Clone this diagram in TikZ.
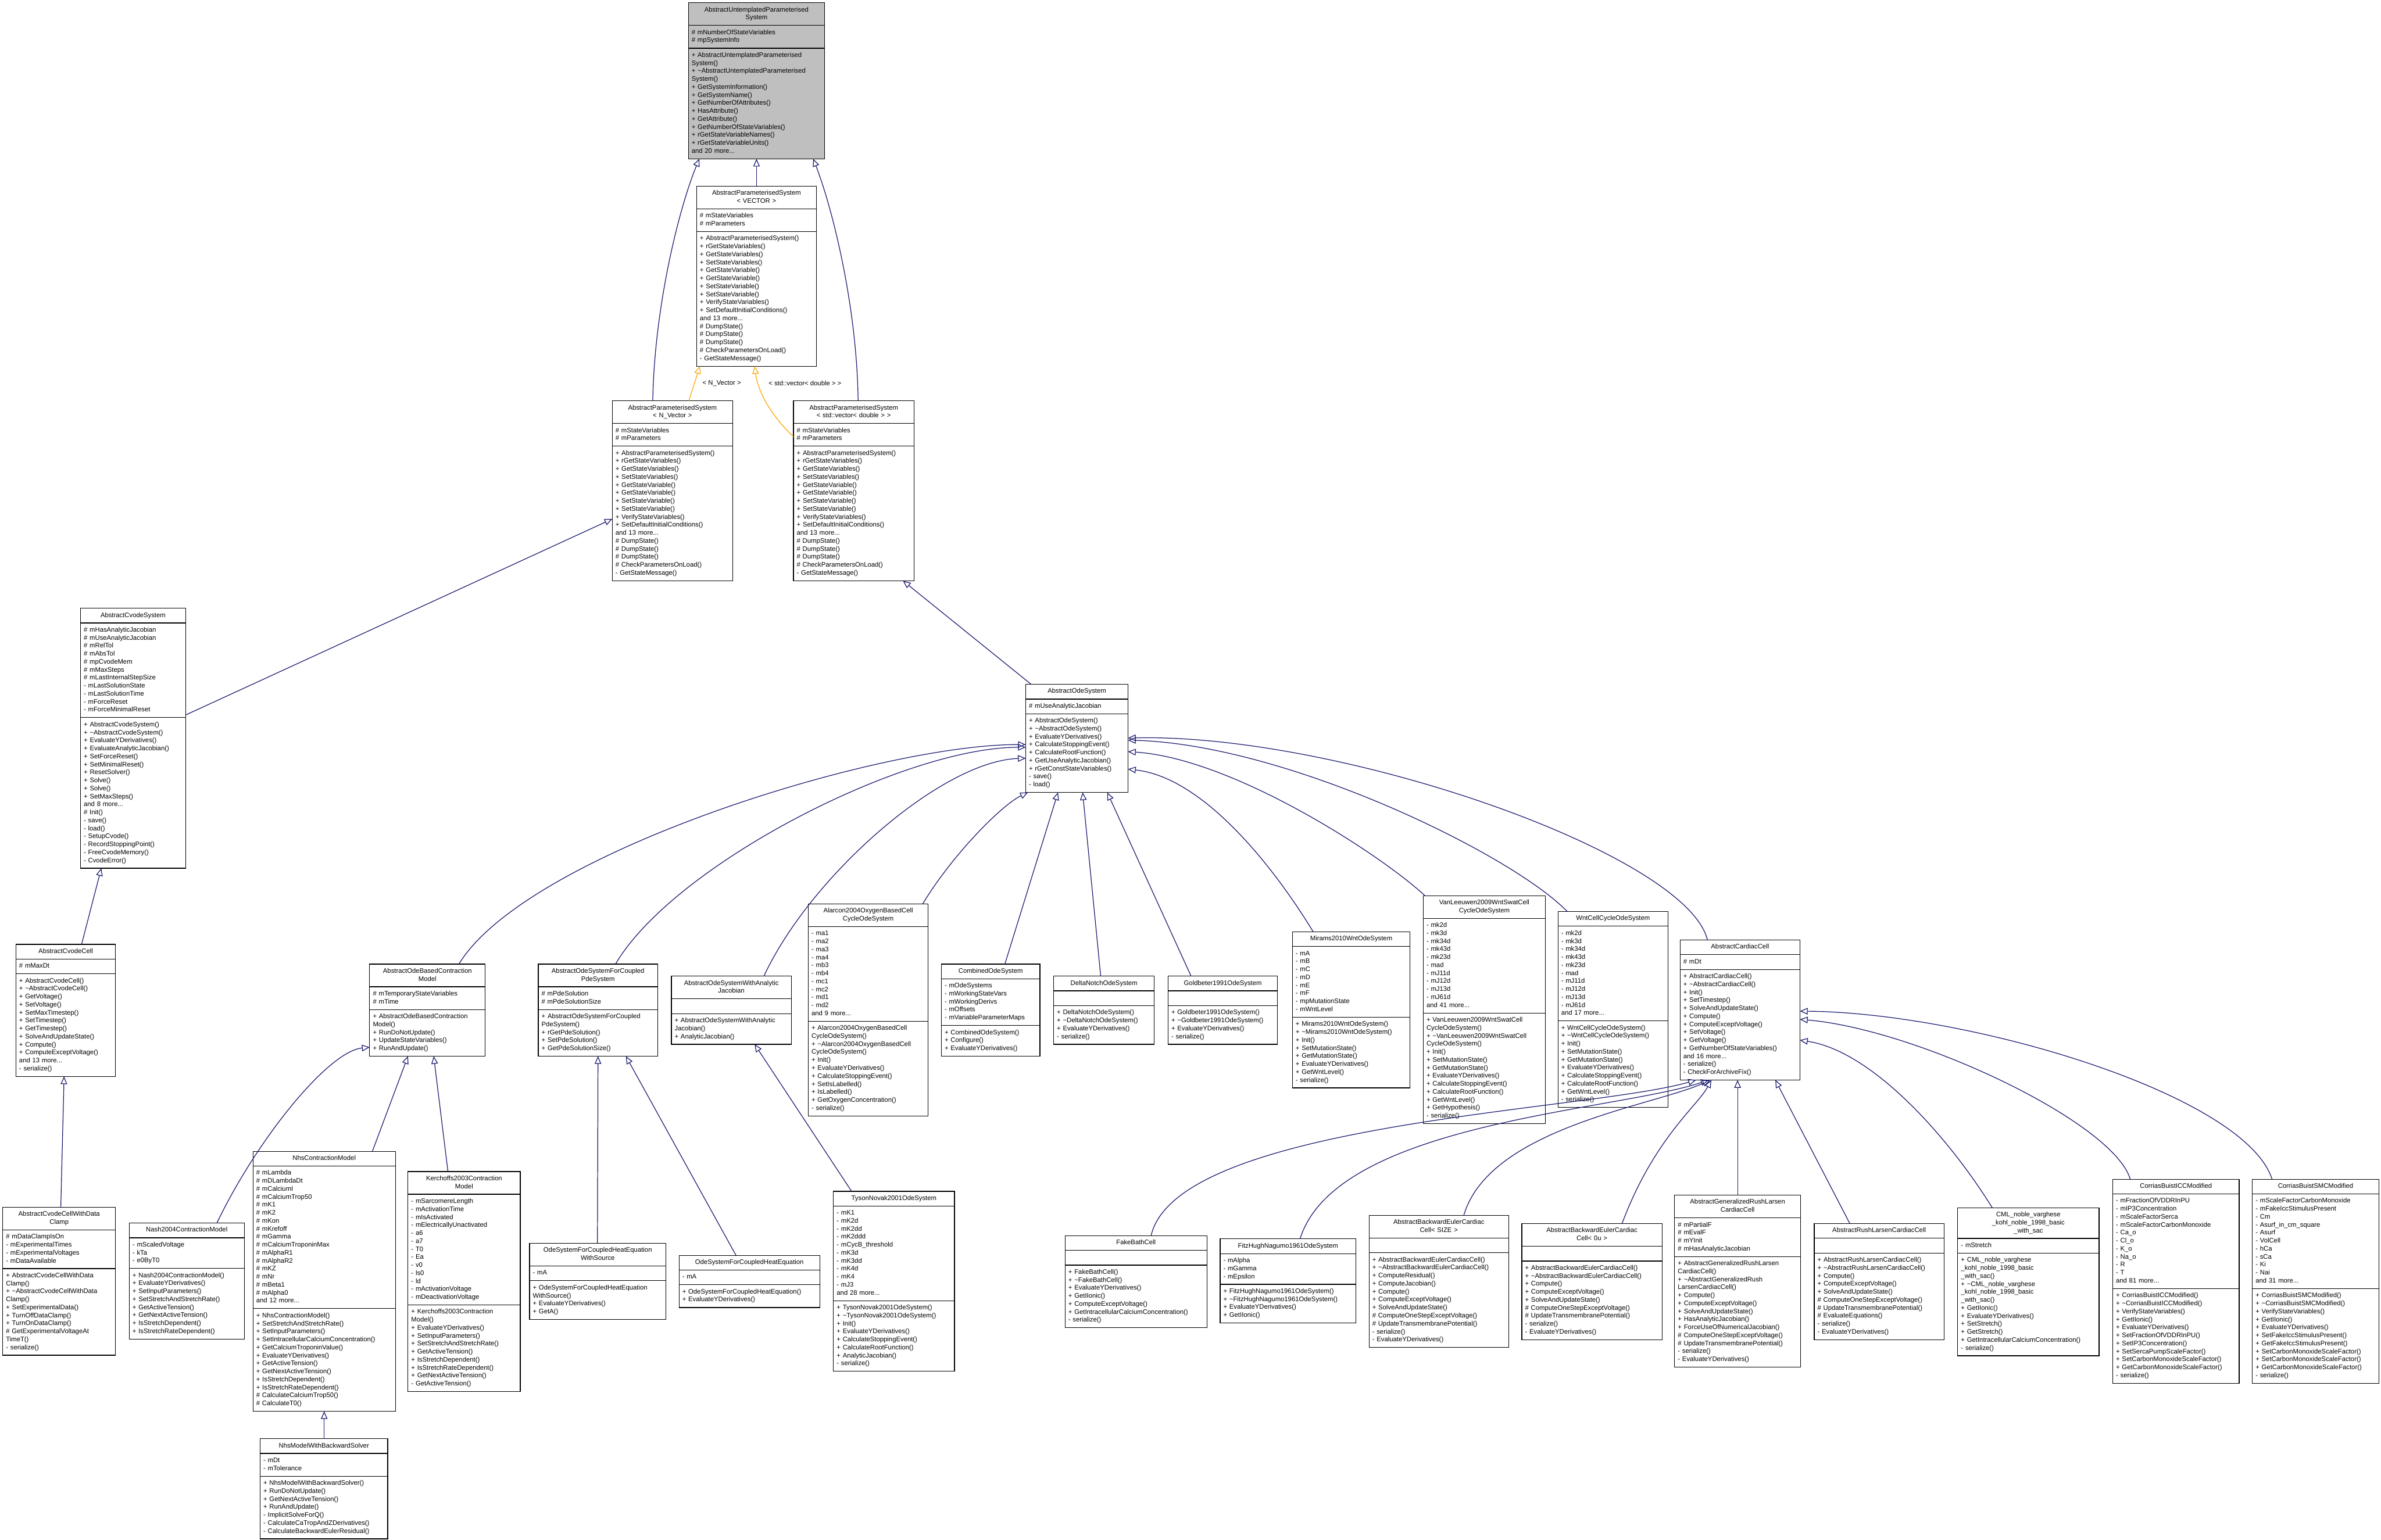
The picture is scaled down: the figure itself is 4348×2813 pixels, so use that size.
\documentclass[tikz,border=0pt]{standalone}
\usepackage{fontspec}
\setmainfont{Liberation Sans}
\usetikzlibrary{arrows.meta,shapes.multipart}
\definecolor{edgeblue}{HTML}{191970}
\definecolor{tmplorange}{HTML}{FFA500}
\definecolor{rootgray}{HTML}{BFBFBF}
\newcommand\tld{\textasciitilde}
\newcommand\umlclass[8][]{\node[cls,text width=#5,#1] (#2) at (#3,#4) {\noindent\hbox to\hsize{\hss\begin{tabular}{@{}c@{}}#6\end{tabular}\hss}\nodepart{second}\strut#7\strut\nodepart{third}\strut#8\strut};}
\tikzset{
  cls/.style={rectangle split, rectangle split parts=3, draw=black, line width=1.3pt, fill=white,
    anchor=north west, inner xsep=6pt, inner ysep=5.5pt, outer sep=0pt,
    font=\fontsize{12}{14.6}\selectfont, align=left},
  inh/.style={draw=edgeblue, line width=1.3pt, -{Triangle[open,length=14pt,width=12pt]}},
  tmpl/.style={draw=tmplorange, line width=1.3pt, -{Triangle[open,length=14pt,width=12pt]}},
  lbl/.style={font=\fontsize{12}{14.6}\selectfont, inner sep=1pt}
}
\begin{document}
\begin{tikzpicture}[x=1pt,y=-1pt]
\fill[white] (0,0) rectangle (4348,2813);
\useasboundingbox (0,0) rectangle (4348,2813);

% ---------- rank 0-2
\umlclass[fill=rootgray]{ups}{1257}{5}{237pt}{AbstractUntemplatedParameterised\\System}
 {\# mNumberOfStateVariables\\\# mpSystemInfo}
 {+ AbstractUntemplatedParameterised\\System()\\+ \tld AbstractUntemplatedParameterised\\System()\\+ GetSystemInformation()\\+ GetSystemName()\\+ GetNumberOfAttributes()\\+ HasAttribute()\\+ GetAttribute()\\+ GetNumberOfStateVariables()\\+ rGetStateVariableNames()\\+ rGetStateVariableUnits()\\and 20 more...}

\umlclass{vec}{1272}{340}{207pt}{AbstractParameterisedSystem\\< VECTOR >}
 {\# mStateVariables\\\# mParameters}
 {+ AbstractParameterisedSystem()\\+ rGetStateVariables()\\+ GetStateVariables()\\+ SetStateVariables()\\+ GetStateVariable()\\+ GetStateVariable()\\+ SetStateVariable()\\+ SetStateVariable()\\+ VerifyStateVariables()\\+ SetDefaultInitialConditions()\\and 13 more...\\\# DumpState()\\\# DumpState()\\\# DumpState()\\\# CheckParametersOnLoad()\\- GetStateMessage()}

\umlclass{nvec}{1118}{732}{208pt}{AbstractParameterisedSystem\\< N\_Vector >}
 {\# mStateVariables\\\# mParameters}
 {+ AbstractParameterisedSystem()\\+ rGetStateVariables()\\+ GetStateVariables()\\+ SetStateVariables()\\+ GetStateVariable()\\+ GetStateVariable()\\+ SetStateVariable()\\+ SetStateVariable()\\+ VerifyStateVariables()\\+ SetDefaultInitialConditions()\\and 13 more...\\\# DumpState()\\\# DumpState()\\\# DumpState()\\\# CheckParametersOnLoad()\\- GetStateMessage()}

\umlclass{svec}{1449}{732}{208pt}{AbstractParameterisedSystem\\< std::vector< double > >}
 {\# mStateVariables\\\# mParameters}
 {+ AbstractParameterisedSystem()\\+ rGetStateVariables()\\+ GetStateVariables()\\+ SetStateVariables()\\+ GetStateVariable()\\+ GetStateVariable()\\+ SetStateVariable()\\+ SetStateVariable()\\+ VerifyStateVariables()\\+ SetDefaultInitialConditions()\\and 13 more...\\\# DumpState()\\\# DumpState()\\\# DumpState()\\\# CheckParametersOnLoad()\\- GetStateMessage()}

% ---------- rank 3
\umlclass{cvs}{147}{1111}{180pt}{AbstractCvodeSystem}
 {\# mHasAnalyticJacobian\\\# mUseAnalyticJacobian\\\# mRelTol\\\# mAbsTol\\\# mpCvodeMem\\\# mMaxSteps\\\# mLastInternalStepSize\\- mLastSolutionState\\- mLastSolutionTime\\- mForceReset\\- mForceMinimalReset}
 {+ AbstractCvodeSystem()\\+ \tld AbstractCvodeSystem()\\+ EvaluateYDerivatives()\\+ EvaluateAnalyticJacobian()\\+ SetForceReset()\\+ SetMinimalReset()\\+ ResetSolver()\\+ Solve()\\+ Solve()\\+ SetMaxSteps()\\and 8 more...\\\# Init()\\- save()\\- load()\\- SetupCvode()\\- RecordStoppingPoint()\\- FreeCvodeMemory()\\- CvodeError()}

\umlclass{aos}{1873}{1250}{175pt}{AbstractOdeSystem}
 {\# mUseAnalyticJacobian}
 {+ AbstractOdeSystem()\\+ \tld AbstractOdeSystem()\\+ EvaluateYDerivatives()\\+ CalculateStoppingEvent()\\+ CalculateRootFunction()\\+ GetUseAnalyticJacobian()\\+ rGetConstStateVariables()\\- save()\\- load()}

% ---------- rank 4
\umlclass{cvc}{29}{1725}{170pt}{AbstractCvodeCell}
 {\# mMaxDt}
 {+ AbstractCvodeCell()\\+ \tld AbstractCvodeCell()\\+ GetVoltage()\\+ SetVoltage()\\+ SetMaxTimestep()\\+ SetTimestep()\\+ GetTimestep()\\+ SolveAndUpdateState()\\+ Compute()\\+ ComputeExceptVoltage()\\and 13 more...\\- serialize()}

\umlclass{cm}{675}{1761}{199pt}{AbstractOdeBasedContraction\\Model}
 {\# mTemporaryStateVariables\\\# mTime}
 {+ AbstractOdeBasedContraction\\Model()\\+ RunDoNotUpdate()\\+ UpdateStateVariables()\\+ RunAndUpdate()}

\umlclass{pde}{983}{1761}{206pt}{AbstractOdeSystemForCoupled\\PdeSystem}
 {\# mPdeSolution\\\# mPdeSolutionSize}
 {+ AbstractOdeSystemForCoupled\\PdeSystem()\\+ rGetPdeSolution()\\+ SetPdeSolution()\\+ GetPdeSolutionSize()}

\umlclass{ajac}{1226}{1783}{207pt}{AbstractOdeSystemWithAnalytic\\Jacobian}
 {}
 {+ AbstractOdeSystemWithAnalytic\\Jacobian()\\+ AnalyticJacobian()}

\umlclass{alar}{1476}{1651}{207pt}{Alarcon2004OxygenBasedCell\\CycleOdeSystem}
 {- ma1\\- ma2\\- ma3\\- ma4\\- mb3\\- mb4\\- mc1\\- mc2\\- md1\\- md2\\and 9 more...}
 {+ Alarcon2004OxygenBasedCell\\CycleOdeSystem()\\+ \tld Alarcon2004OxygenBasedCell\\CycleOdeSystem()\\+ Init()\\+ EvaluateYDerivatives()\\+ CalculateStoppingEvent()\\+ SetIsLabelled()\\+ IsLabelled()\\+ GetOxygenConcentration()\\- serialize()}

\umlclass{comb}{1719}{1761}{168pt}{CombinedOdeSystem}
 {- mOdeSystems\\- mWorkingStateVars\\- mWorkingDerivs\\- mOffsets\\- mVariableParameterMaps}
 {+ CombinedOdeSystem()\\+ Configure()\\+ EvaluateYDerivatives()}

\umlclass{dn}{1924}{1783}{172pt}{DeltaNotchOdeSystem}
 {}
 {+ DeltaNotchOdeSystem()\\+ \tld DeltaNotchOdeSystem()\\+ EvaluateYDerivatives()\\- serialize()}

\umlclass{gb}{2133}{1783}{188pt}{Goldbeter1991OdeSystem}
 {}
 {+ Goldbeter1991OdeSystem()\\+ \tld Goldbeter1991OdeSystem()\\+ EvaluateYDerivatives()\\- serialize()}

\umlclass{mir}{2360}{1702}{203pt}{Mirams2010WntOdeSystem}
 {- mA\\- mB\\- mC\\- mD\\- mE\\- mF\\- mpMutationState\\- mWntLevel}
 {+ Mirams2010WntOdeSystem()\\+ \tld Mirams2010WntOdeSystem()\\+ Init()\\+ SetMutationState()\\+ GetMutationState()\\+ EvaluateYDerivatives()\\+ GetWntLevel()\\- serialize()}

\umlclass{vl}{2599}{1636}{211pt}{VanLeeuwen2009WntSwatCell\\CycleOdeSystem}
 {- mk2d\\- mk3d\\- mk34d\\- mk43d\\- mk23d\\- mad\\- mJ11d\\- mJ12d\\- mJ13d\\- mJ61d\\and 41 more...}
 {+ VanLeeuwen2009WntSwatCell\\CycleOdeSystem()\\+ \tld VanLeeuwen2009WntSwatCell\\CycleOdeSystem()\\+ Init()\\+ SetMutationState()\\+ GetMutationState()\\+ EvaluateYDerivatives()\\+ CalculateStoppingEvent()\\+ CalculateRootFunction()\\+ GetWntLevel()\\+ GetHypothesis()\\- serialize()}

\umlclass{wnt}{2845}{1665}{189pt}{WntCellCycleOdeSystem}
 {- mk2d\\- mk3d\\- mk34d\\- mk43d\\- mk23d\\- mad\\- mJ11d\\- mJ12d\\- mJ13d\\- mJ61d\\and 17 more...}
 {+ WntCellCycleOdeSystem()\\+ \tld WntCellCycleOdeSystem()\\+ Init()\\+ SetMutationState()\\+ GetMutationState()\\+ EvaluateYDerivatives()\\+ CalculateStoppingEvent()\\+ CalculateRootFunction()\\+ GetWntLevel()\\- serialize()}

\umlclass{acc}{3068}{1717}{207pt}{AbstractCardiacCell}
 {\# mDt}
 {+ AbstractCardiacCell()\\+ \tld AbstractCardiacCell()\\+ Init()\\+ SetTimestep()\\+ SolveAndUpdateState()\\+ Compute()\\+ ComputeExceptVoltage()\\+ SetVoltage()\\+ GetVoltage()\\+ GetNumberOfStateVariables()\\and 16 more...\\- serialize()\\- CheckForArchiveFix()}

% ---------- rank 5
\umlclass{wdc}{5}{2205}{194pt}{AbstractCvodeCellWithData\\Clamp}
 {\# mDataClampIsOn\\- mExperimentalTimes\\- mExperimentalVoltages\\- mDataAvailable}
 {+ AbstractCvodeCellWithData\\Clamp()\\+ \tld AbstractCvodeCellWithData\\Clamp()\\+ SetExperimentalData()\\+ TurnOffDataClamp()\\+ TurnOnDataClamp()\\\# GetExperimentalVoltageAt\\TimeT()\\- serialize()}

\umlclass{nash}{236}{2234}{198pt}{Nash2004ContractionModel}
 {- mScaledVoltage\\- kTa\\- e0ByT0}
 {+ Nash2004ContractionModel()\\+ EvaluateYDerivatives()\\+ SetInputParameters()\\+ SetStretchAndStretchRate()\\+ GetActiveTension()\\+ GetNextActiveTension()\\+ IsStretchDependent()\\+ IsStretchRateDependent()}

\umlclass{nhs}{462}{2103}{248pt}{NhsContractionModel}
 {\# mLambda\\\# mDLambdaDt\\\# mCalciumI\\\# mCalciumTrop50\\\# mK1\\\# mK2\\\# mKon\\\# mKrefoff\\\# mGamma\\\# mCalciumTroponinMax\\\# mAlphaR1\\\# mAlphaR2\\\# mKZ\\\# mNr\\\# mBeta1\\\# mAlpha0\\and 12 more...}
 {+ NhsContractionModel()\\+ SetStretchAndStretchRate()\\+ SetInputParameters()\\+ SetIntracellularCalciumConcentration()\\+ GetCalciumTroponinValue()\\+ EvaluateYDerivatives()\\+ GetActiveTension()\\+ GetNextActiveTension()\\+ IsStretchDependent()\\+ IsStretchRateDependent()\\\# CalculateCalciumTrop50()\\\# CalculateT0()}

\umlclass{ker}{745}{2140}{193pt}{Kerchoffs2003Contraction\\Model}
 {- mSarcomereLength\\- mActivationTime\\- mIsActivated\\- mElectricallyUnactivated\\- a6\\- a7\\- T0\\- Ea\\- v0\\- ls0\\- ld\\- mActivationVoltage\\- mDeactivationVoltage}
 {+ Kerchoffs2003Contraction\\Model()\\+ EvaluateYDerivatives()\\+ SetInputParameters()\\+ SetStretchAndStretchRate()\\+ GetActiveTension()\\+ IsStretchDependent()\\+ IsStretchRateDependent()\\+ GetNextActiveTension()\\- GetActiveTension()}

\umlclass{wsrc}{967}{2271}{237pt}{OdeSystemForCoupledHeatEquation\\WithSource}
 {- mA}
 {+ OdeSystemForCoupledHeatEquation\\WithSource()\\+ EvaluateYDerivatives()\\+ GetA()}

\umlclass{heq}{1240}{2293}{245pt}{OdeSystemForCoupledHeatEquation}
 {- mA}
 {+ OdeSystemForCoupledHeatEquation()\\+ EvaluateYDerivatives()}

\umlclass{tys}{1522}{2176}{209pt}{TysonNovak2001OdeSystem}
 {- mK1\\- mK2d\\- mK2dd\\- mK2ddd\\- mCycB\_threshold\\- mK3d\\- mK3dd\\- mK4d\\- mK4\\- mJ3\\and 28 more...}
 {+ TysonNovak2001OdeSystem()\\+ \tld TysonNovak2001OdeSystem()\\+ Init()\\+ EvaluateYDerivatives()\\+ CalculateStoppingEvent()\\+ CalculateRootFunction()\\+ AnalyticJacobian()\\- serialize()}

\umlclass{fb}{1945}{2257}{247pt}{FakeBathCell}
 {}
 {+ FakeBathCell()\\+ \tld FakeBathCell()\\+ EvaluateYDerivatives()\\+ GetIIonic()\\+ ComputeExceptVoltage()\\+ GetIntracellularCalciumConcentration()\\- serialize()}

\umlclass{fhn}{2228}{2263}{236pt}{FitzHughNagumo1961OdeSystem}
 {- mAlpha\\- mGamma\\- mEpsilon}
 {+ FitzHughNagumo1961OdeSystem()\\+ \tld FitzHughNagumo1961OdeSystem()\\+ EvaluateYDerivatives()\\+ GetIIonic()}

\umlclass{bes}{2500}{2220}{243pt}{AbstractBackwardEulerCardiac\\Cell< SIZE >}
 {}
 {+ AbstractBackwardEulerCardiacCell()\\+ \tld AbstractBackwardEulerCardiacCell()\\+ ComputeResidual()\\+ ComputeJacobian()\\+ Compute()\\+ ComputeExceptVoltage()\\+ SolveAndUpdateState()\\\# ComputeOneStepExceptVoltage()\\\# UpdateTransmembranePotential()\\- serialize()\\- EvaluateYDerivatives()}

\umlclass{be0}{2779}{2235}{244pt}{AbstractBackwardEulerCardiac\\Cell< 0u >}
 {}
 {+ AbstractBackwardEulerCardiacCell()\\+ \tld AbstractBackwardEulerCardiacCell()\\+ Compute()\\+ ComputeExceptVoltage()\\+ SolveAndUpdateState()\\\# ComputeOneStepExceptVoltage()\\\# UpdateTransmembranePotential()\\- serialize()\\- EvaluateYDerivatives()}

\umlclass{grl}{3058}{2183}{218pt}{AbstractGeneralizedRushLarsen\\CardiacCell}
 {\# mPartialF\\\# mEvalF\\\# mYInit\\\# mHasAnalyticJacobian}
 {+ AbstractGeneralizedRushLarsen\\CardiacCell()\\+ \tld AbstractGeneralizedRush\\LarsenCardiacCell()\\+ Compute()\\+ ComputeExceptVoltage()\\+ SolveAndUpdateState()\\+ HasAnalyticJacobian()\\+ ForceUseOfNumericalJacobian()\\\# ComputeOneStepExceptVoltage()\\\# UpdateTransmembranePotential()\\- serialize()\\- EvaluateYDerivatives()}

\umlclass{rl}{3313}{2235}{225pt}{AbstractRushLarsenCardiacCell}
 {}
 {+ AbstractRushLarsenCardiacCell()\\+ \tld AbstractRushLarsenCardiacCell()\\+ Compute()\\+ ComputeExceptVoltage()\\+ SolveAndUpdateState()\\\# ComputeOneStepExceptVoltage()\\\# UpdateTransmembranePotential()\\\# EvaluateEquations()\\- serialize()\\- EvaluateYDerivatives()}

\umlclass{cml}{3575}{2206}{246pt}{CML\_noble\_varghese\\\_kohl\_noble\_1998\_basic\\\_with\_sac}
 {- mStretch}
 {+ CML\_noble\_varghese\\\_kohl\_noble\_1998\_basic\\\_with\_sac()\\+ \tld CML\_noble\_varghese\\\_kohl\_noble\_1998\_basic\\\_with\_sac()\\+ GetIIonic()\\+ EvaluateYDerivatives()\\+ SetStretch()\\+ GetStretch()\\+ GetIntracellularCalciumConcentration()\\- serialize()}

\umlclass{icc}{3858}{2154}{219pt}{CorriasBuistICCModified}
 {- mFractionOfVDDRInPU\\- mIP3Concentration\\- mScaleFactorSerca\\- mScaleFactorCarbonMonoxide\\- Ca\_o\\- Cl\_o\\- K\_o\\- Na\_o\\- R\\- T\\and 81 more...}
 {+ CorriasBuistICCModified()\\+ \tld CorriasBuistICCModified()\\+ VerifyStateVariables()\\+ GetIIonic()\\+ EvaluateYDerivatives()\\+ SetFractionOfVDDRInPU()\\+ SetIP3Concentration()\\+ SetSercaPumpScaleFactor()\\+ SetCarbonMonoxideScaleFactor()\\+ GetCarbonMonoxideScaleFactor()\\- serialize()}

\umlclass{smc}{4113}{2154}{219pt}{CorriasBuistSMCModified}
 {- mScaleFactorCarbonMonoxide\\- mFakeIccStimulusPresent\\- Cm\\- Asurf\_in\_cm\_square\\- Asurf\\- VolCell\\- hCa\\- sCa\\- Ki\\- Nai\\and 31 more...}
 {+ CorriasBuistSMCModified()\\+ \tld CorriasBuistSMCModified()\\+ VerifyStateVariables()\\+ GetIIonic()\\+ EvaluateYDerivatives()\\+ SetFakeIccStimulusPresent()\\+ GetFakeIccStimulusPresent()\\+ SetCarbonMonoxideScaleFactor()\\+ SetCarbonMonoxideScaleFactor()\\+ GetCarbonMonoxideScaleFactor()\\- serialize()}

% ---------- rank 6
\umlclass{nhsb}{475}{2628}{221pt}{NhsModelWithBackwardSolver}
 {- mDt\\- mTolerance}
 {+ NhsModelWithBackwardSolver()\\+ RunDoNotUpdate()\\+ GetNextActiveTension()\\+ RunAndUpdate()\\- ImplicitSolveForQ()\\- CalculateCaTropAndZDerivatives()\\- CalculateBackwardEulerResidual()}

% ---------- edges: top
\draw[inh] (vec.north) -- (ups.south);
\draw[inh] ([xshift=74pt]nvec.north west) .. controls (1195,560) and (1240,380) .. ([xshift=20pt]ups.south west);
\draw[inh] ([xshift=118pt]svec.north west) .. controls (1565,560) and (1520,380) .. ([xshift=-21pt]ups.south east);
\draw[tmpl] ([xshift=140pt]nvec.north west) -- ([xshift=6pt]vec.south west);
\draw[tmpl] ([yshift=-66pt]svec.north west) .. controls (1410,760) and (1385,720) .. ([xshift=106pt]vec.south west);
\node[lbl] (lblnv) at (1318,700) {< N\_Vector >};
\node[lbl] (lblsv) at (1470,700) {< std::vector< double > >};

\draw[inh] ([yshift=-195pt]cvs.north east) -- ([yshift=-216pt]nvec.north west);
\draw[inh] ([xshift=10pt]aos.north west) -- ([xshift=-20pt]svec.south east);

% ---------- edges: cvode branch
\draw[inh] ([xshift=120pt]cvc.north west) -- ([xshift=38pt]cvs.south west);
\draw[inh] ([xshift=106pt]wdc.north west) -- ([xshift=88pt]cvc.south west);

% ---------- edges: to AbstractOdeSystem
\draw[inh] ([xshift=163pt]cm.north west) .. controls (960,1560) and (1600,1360) .. ([yshift=-110pt]aos.north west);
\draw[inh] ([xshift=141pt]pde.north west) .. controls (1230,1580) and (1650,1365) .. ([yshift=-115pt]aos.north west);
\draw[inh] ([xshift=169pt]ajac.north west) .. controls (1480,1600) and (1720,1390) .. ([yshift=-135pt]aos.north west);
\draw[inh] ([xshift=-10pt]alar.north east) .. controls (1740,1560) and (1830,1470) .. ([xshift=4pt]aos.south west);
\draw[inh] ([xshift=116pt]comb.north west) -- ([xshift=59pt]aos.south west);
\draw[inh] ([xshift=86pt]dn.north west) -- ([xshift=104pt]aos.south west);
\draw[inh] ([xshift=42pt]gb.north west) -- ([xshift=149pt]aos.south west);
\draw[inh] ([xshift=38pt]mir.north west) .. controls (2330,1590) and (2200,1420) .. ([yshift=-155pt]aos.north east);
\draw[inh] ([xshift=3pt]vl.north west) .. controls (2520,1560) and (2250,1385) .. ([yshift=-123pt]aos.north east);
\draw[inh] ([xshift=17pt]wnt.north west) .. controls (2760,1560) and (2350,1360) .. ([yshift=-102pt]aos.north east);
\draw[inh] ([xshift=50pt]acc.north west) .. controls (3080,1560) and (2450,1340) .. ([yshift=-98pt]aos.north east);

% ---------- edges: contraction / pde / jacobian
\draw[inh] ([xshift=160pt]nash.north west) .. controls (470,2080) and (600,1920) .. ([yshift=-152pt]cm.north west);
\draw[inh] ([xshift=218pt]nhs.north west) -- ([xshift=70pt]cm.south west);
\draw[inh] ([xshift=73pt]ker.north west) -- ([xshift=117pt]cm.south west);
\draw[inh] ([xshift=117pt]nhsb.north west) -- ([xshift=130pt]nhs.south west);
\draw[inh] ([xshift=124pt]wsrc.north west) -- ([xshift=109pt]pde.south west);
\draw[inh] ([xshift=104pt]heq.north west) -- ([xshift=160pt]pde.south west);
\draw[inh] ([xshift=33pt]tys.north west) -- ([xshift=152pt]ajac.south west);

% ---------- edges: to AbstractCardiacCell
\draw[inh] ([xshift=157pt]fb.north west) .. controls (2150,2050) and (2900,2030) .. ([xshift=29pt]acc.south west);
\draw[inh] ([xshift=146pt]fhn.north west) .. controls (2440,2050) and (2950,2030) .. ([xshift=52pt]acc.south west);
\draw[inh] ([xshift=173pt]bes.north west) .. controls (2720,2060) and (3020,2020) .. ([xshift=55pt]acc.south west);
\draw[inh] ([xshift=183pt]be0.north west) .. controls (3020,2080) and (3100,2020) .. ([xshift=57pt]acc.south west);
\draw[inh] ([xshift=115pt]grl.north west) -- ([xshift=105pt]acc.south west);
\draw[inh] ([xshift=65pt]rl.north west) -- ([xshift=174pt]acc.south west);
\draw[inh] ([xshift=63pt]cml.north west) .. controls (3560,2080) and (3420,1920) .. ([yshift=-183pt]acc.north east);
\draw[inh] ([xshift=32pt]icc.north west) .. controls (3860,2050) and (3500,1880) .. ([yshift=-145pt]acc.north east);
\draw[inh] ([xshift=36pt]smc.north west) .. controls (4100,2000) and (3600,1850) .. ([yshift=-130pt]acc.north east);
\end{tikzpicture}
\end{document}
